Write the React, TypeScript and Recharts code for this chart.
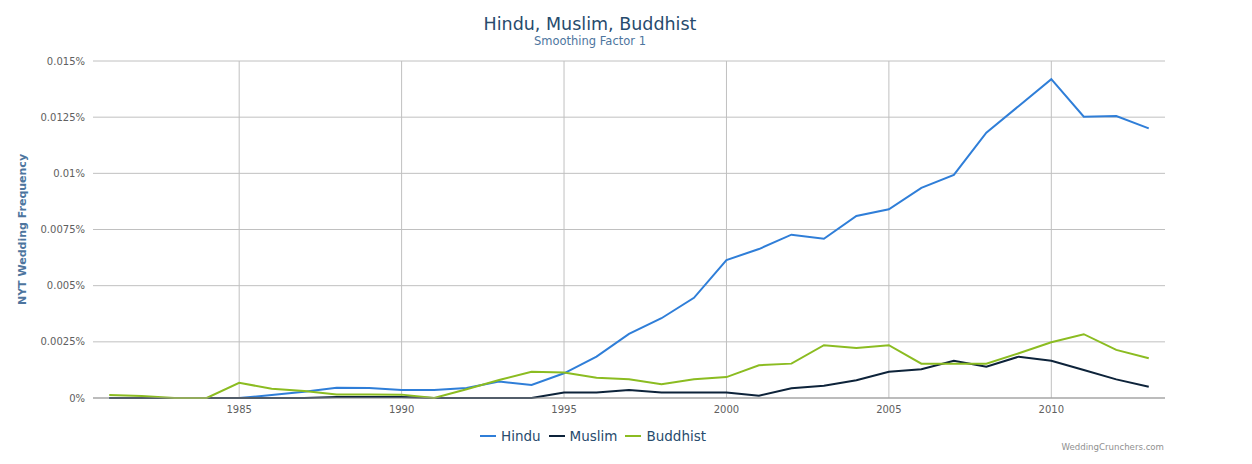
import { LineChart, Line, XAxis, YAxis, CartesianGrid, ReferenceLine } from "recharts"

const years = [
  1981, 1982, 1983, 1984, 1985, 1986, 1987, 1988, 1989, 1990, 1991, 1992, 1993, 1994, 1995, 1996, 1997,
  1998, 1999, 2000, 2001, 2002, 2003, 2004, 2005, 2006, 2007, 2008, 2009, 2010, 2011, 2012, 2013,
]

// values are in percent
const hindu = [
  0, 0, 0, 0, 0, 0.00013, 0.00028, 0.00046, 0.00045, 0.00036, 0.00036, 0.00045, 0.00073, 0.00058, 0.0011,
  0.00184, 0.00285, 0.00355, 0.00446, 0.00614, 0.00663, 0.00727, 0.00709, 0.0081, 0.0084, 0.00935, 0.00993,
  0.01181, 0.013, 0.01419, 0.01252, 0.01255, 0.012,
]
const muslim = [
  0, 0, 0, 0, 0, 0, 0, 0.00005, 0.00005, 0.00005, 0, 0, 0, 0, 0.00024, 0.00024, 0.00036, 0.00025, 0.00025,
  0.00025, 0.0001, 0.00043, 0.00055, 0.00079, 0.00117, 0.00128, 0.00166, 0.00139, 0.00184, 0.00166, 0.00125,
  0.00083, 0.0005,
]
const buddhist = [
  0.00013, 0.00009, 0, 0, 0.00068, 0.00041, 0.00031, 0.00016, 0.00016, 0.00015, 0, 0.00039, 0.0008, 0.00117,
  0.00113, 0.0009, 0.00083, 0.00061, 0.00083, 0.00093, 0.00146, 0.00153, 0.00235, 0.00223, 0.00235, 0.00153,
  0.00153, 0.00153, 0.00199, 0.00248, 0.00284, 0.00214, 0.00177,
]

const xTicks = [1985, 1990, 1995, 2000, 2005, 2010]
const yTicks = [0, 0.0025, 0.005, 0.0075, 0.01, 0.0125, 0.015]
const yTickLabels = ["0%", "0.0025%", "0.005%", "0.0075%", "0.01%", "0.0125%", "0.015%"]

const series = [
  { key: "hindu", name: "Hindu", color: "#2f7ed8" },
  { key: "muslim", name: "Muslim", color: "#0d233a" },
  { key: "buddhist", name: "Buddhist", color: "#8bbc21" },
]

const data = years.map((year, i) => ({
  year,
  hindu: hindu[i],
  muslim: muslim[i],
  buddhist: buddhist[i],
}))

const font = "'DejaVu Sans', Verdana, sans-serif"

function YLabel({ viewBox }: any) {
  const cx = viewBox.x + 26
  const cy = viewBox.y + viewBox.height / 2
  return (
    <text
      x={cx}
      y={cy}
      transform={`rotate(-90, ${cx}, ${cy})`}
      textAnchor="middle"
      fill="#4d759e"
      fontFamily={font}
      fontSize={11}
      fontWeight="bold"
    >
      NYT Wedding Frequency
    </text>
  )
}

export default function App() {
  return (
    <div style={{ position: "absolute", left: 0, top: 0, width: 1252, height: 464, background: "#fff" }}>
      <div
        style={{
          position: "absolute",
          left: 390,
          width: 400,
          top: 14,
          textAlign: "center",
          fontFamily: font,
          fontSize: 17.5,
          lineHeight: "20px",
          color: "#274b6d",
        }}
      >
        Hindu, Muslim, Buddhist
      </div>
      <div
        style={{
          position: "absolute",
          left: 390,
          width: 400,
          top: 34,
          textAlign: "center",
          fontFamily: font,
          fontSize: 11.5,
          lineHeight: "14px",
          color: "#4d759e",
        }}
      >
        Smoothing Factor 1
      </div>
      <LineChart width={1252} height={464} data={data} margin={{ top: 61, right: 87, bottom: 36, left: 0 }}>
        <CartesianGrid stroke="#c0c0c0" vertical={false} />
        {xTicks.map((t) => (
          <ReferenceLine key={t} x={t} stroke="#c0c0c0" />
        ))}
        {series.map((s) => (
          <Line
            key={s.key}
            type="linear"
            dataKey={s.key}
            name={s.name}
            stroke={s.color}
            strokeWidth={2}
            dot={false}
            activeDot={false}
            isAnimationActive={false}
          />
        ))}
        <XAxis
          dataKey="year"
          type="number"
          domain={[1980.5, 2013.5]}
          ticks={xTicks}
          height={30}
          tickLine={false}
          stroke="#999"
          tick={{ fill: "#606060", fontSize: 10, fontFamily: font }}
          tickMargin={2}
        />
        <YAxis
          width={93}
          domain={[0, 0.015]}
          ticks={yTicks}
          axisLine={false}
          tickLine={false}
          tickSize={6}
          tickMargin={2}
          tickFormatter={(v: number) => yTickLabels[yTicks.indexOf(v)] ?? `${v}%`}
          tick={{ fill: "#606060", fontSize: 10, fontFamily: font }}
          label={<YLabel />}
        />
      </LineChart>
      <div
        style={{
          position: "absolute",
          left: 480,
          top: 427,
          display: "flex",
          alignItems: "center",
          fontFamily: font,
          fontSize: 13.5,
          lineHeight: "18px",
          color: "#274b6d",
        }}
      >
        {series.map((s) => (
          <div key={s.key} style={{ display: "flex", alignItems: "center", marginRight: 8 }}>
            <svg width={16} height={4} style={{ marginRight: 5 }}>
              <line x1={0} y1={2} x2={16} y2={2} stroke={s.color} strokeWidth={2} />
            </svg>
            <span>{s.name}</span>
          </div>
        ))}
      </div>
      <div
        style={{
          position: "absolute",
          right: 1252 - 1164,
          top: 441,
          fontFamily: font,
          fontSize: 8.6,
          lineHeight: "12px",
          color: "#909090",
        }}
      >
        WeddingCrunchers.com
      </div>
    </div>
  )
}
